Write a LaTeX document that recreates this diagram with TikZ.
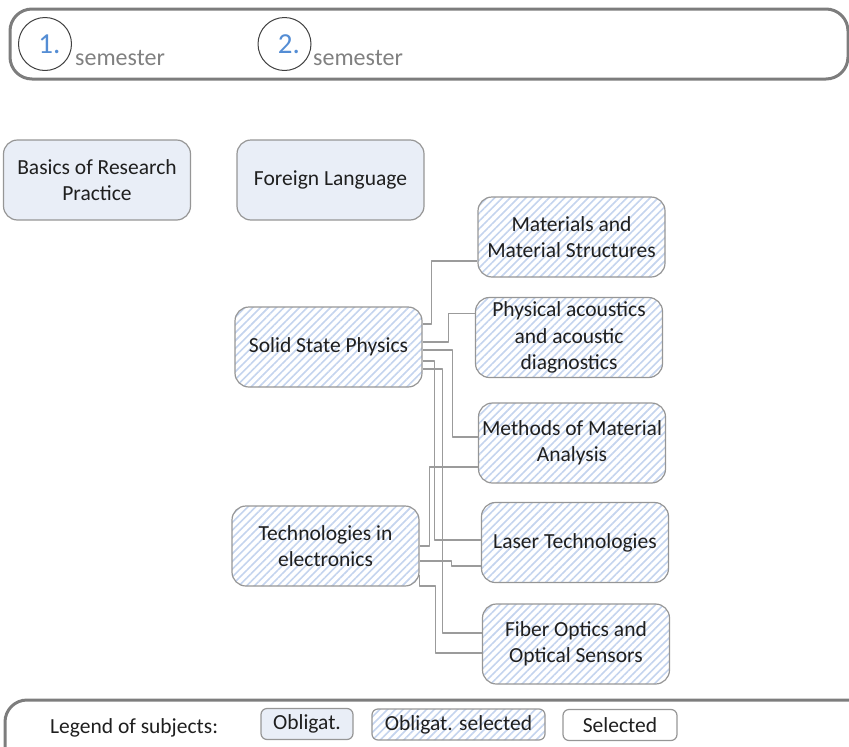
\documentclass[tikz,border=0pt]{standalone}
\usepackage{fontspec}
\setmainfont{Carlito}
\usepackage{tikz}
\usetikzlibrary{positioning,calc,patterns.meta}

\definecolor{oblfill}{RGB}{233,238,247}
\definecolor{stripe}{RGB}{196,212,238}
\definecolor{boxline}{RGB}{150,150,150}
\definecolor{linkline}{RGB}{155,155,155}
\definecolor{bandline}{RGB}{125,125,125}
\definecolor{numblue}{RGB}{84,141,212}
\definecolor{semgray}{RGB}{128,128,128}

\tikzset{
  subj/.style={draw=boxline,line width=1.2pt,rounded corners=14pt,minimum width=187pt,minimum height=80pt,inner sep=0pt,align=center,text=black!88,font=\fontsize{21.5}{26.5}\selectfont},
  obl/.style={subj,fill=oblfill},
  oblsel/.style={subj,pattern={Lines[angle=45,distance=5.5pt,line width=1.6pt]},pattern color=stripe},
  link/.style={draw=linkline,line width=1.3pt},
  band/.style={draw=bandline,line width=3pt,rounded corners=22pt},
  semnum/.style={circle,draw=black!75,line width=1pt,minimum size=53pt,inner sep=0pt,text=numblue,font=\fontsize{29}{29}\selectfont},
  semtxt/.style={text=semgray,inner sep=0pt,anchor=base west,font=\fontsize{24}{24}\selectfont},
  legbox/.style={draw=boxline,line width=1.2pt,rounded corners=6pt,minimum height=31pt,inner sep=0pt,text=black!88,font=\fontsize{21.5}{24}\selectfont}
}

\begin{document}
\begin{tikzpicture}[node distance=100pt,auto,line join=bevel,x=1pt,y=-1pt]
\useasboundingbox (0,0) rectangle (849,747);
\clip (0,0) rectangle (849,747);

\draw[band] (10,9) rectangle (848,79);
\node[semnum] at (45,44) (c1) {\hspace*{9pt}\raisebox{-4pt}{1.}};
\node[semtxt] at (75,65) (s1) {semester};
\node[semnum] at (284.5,44) (c2) {\hspace*{9pt}\raisebox{-4pt}{2.}};
\node[semtxt] at (313,65) (s2) {semester};

\node[obl] at (97,180) (bas) {Basics of Research\\Practice};
\node[obl,right of=bas,xshift=133.5pt] (fl) {Foreign Language};
\node[oblsel,below of=fl,xshift=-2pt,yshift=-67pt] (ssp) {Solid State Physics};
\node[oblsel,below of=ssp,xshift=-3pt,yshift=-99pt] (tech) {Technologies in\\electronics};

\node[oblsel] at (571.5,237) (mat) {Materials and\\Material Structures};
\node[oblsel,below of=mat,xshift=-2.5pt,yshift=-0.5pt] (phy) {Physical acoustics\\and acoustic\\diagnostics};
\node[oblsel,below of=phy,xshift=3pt,yshift=-5.5pt] (met) {Methods of Material\\Analysis};
\node[oblsel,below of=met,xshift=3pt,yshift=0.5pt] (las) {Laser Technologies};
\node[oblsel,below of=las,xshift=1pt,yshift=-1.5pt] (fib) {Fiber Optics and\\Optical Sensors};

\draw[link] ([yshift=23pt]ssp.east) -- ++(9,0) |- ([yshift=-24pt]mat.west);
\draw[link] ([yshift=5pt]ssp.east) -- ++(26,0) |- ([yshift=24pt]phy.west);
\draw[link] ([yshift=-3pt]ssp.east) -- ++(30,0) |- ([yshift=6pt]met.west);
\draw[link] ([yshift=-14pt]ssp.east) -- ++(12,0) |- ([yshift=2.5pt]las.west);
\draw[link] ([yshift=-22pt]ssp.east) -- ++(20,0) |- ([yshift=11pt]fib.west);
\draw[link] (tech.east) -- ++(10,0) |- ([yshift=-24pt]met.west);
\draw[link] ([yshift=-15pt]tech.east) -- ++(32,0) |- ([yshift=-23.5pt]las.west);
\draw[link] ([yshift=-29pt]tech.east) -- ++(0,11) -- ++(16,0) |- ([yshift=-9pt]fib.west);

\draw[band] (5,700) rectangle (890,800);
\node[anchor=base west,inner sep=0pt,text=black!88,font=\fontsize{21.5}{24}\selectfont] at (50,733) (leg) {Legend of subjects:};
\node[legbox,fill=oblfill,minimum width=92pt] at (307,724) (lobl) {Obligat.};
\node[legbox,pattern={Lines[angle=45,distance=5.5pt,line width=1.6pt]},pattern color=stripe,minimum width=173pt] at (458.5,724.5) (losel) {Obligat. selected};
\node[legbox,minimum width=114pt] at (620,725) (lsel) {Selected};
\end{tikzpicture}
\end{document}
